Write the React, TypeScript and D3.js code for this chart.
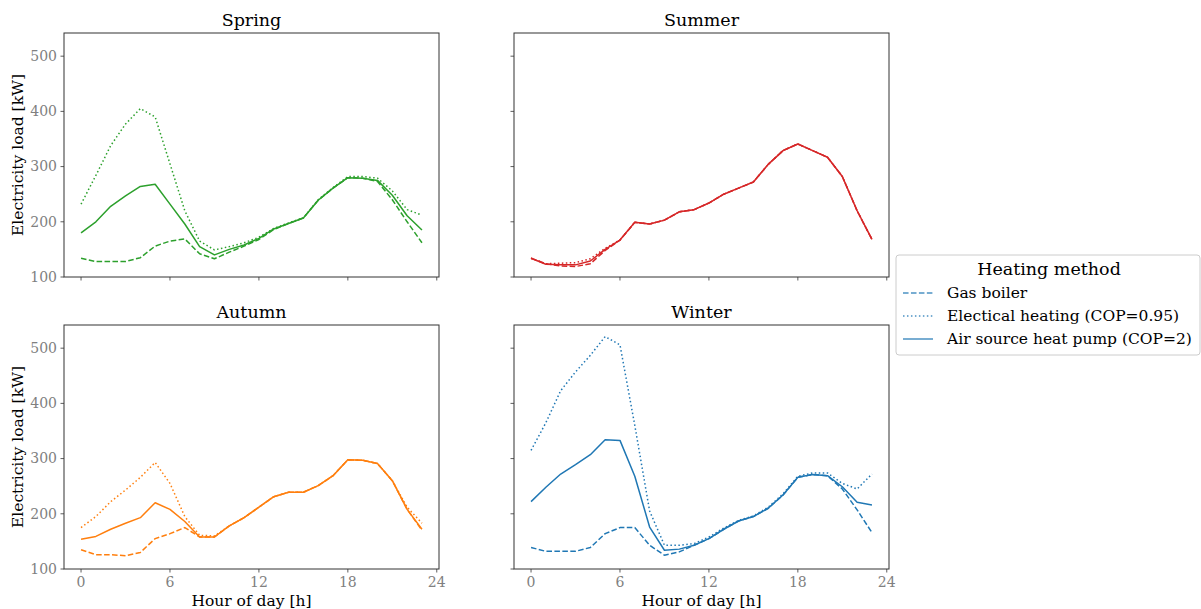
import { scaleLinear, line } from 'd3'

// 2x2 seasonal load profiles, shared axes, one legend on the right.

const HOURS = [0, 1, 2, 3, 4, 5, 6, 7, 8, 9, 10, 11, 12, 13, 14, 15, 16, 17, 18, 19, 20, 21, 22, 23]

const SPRING_GAS = [134, 128, 128, 128, 135, 156, 165, 169, 142, 133, 145, 156, 168, 186, 197, 207, 239, 261, 280, 279, 273, 240, 200, 162]
const SPRING_ELEC = [232, 284, 338, 377, 405, 390, 305, 220, 165, 149, 155, 162, 172, 188, 198, 207, 240, 262, 282, 282, 279, 256, 222, 212]
const SPRING_HP = [180, 200, 228, 247, 264, 268, 232, 196, 155, 140, 150, 158, 170, 187, 197, 207, 239, 261, 280, 279, 275, 248, 211, 185]

const SUMMER_GAS = [134, 124, 120, 119, 124, 148, 167, 199, 196, 203, 218, 222, 234, 250, 261, 272, 304, 329, 341, 329, 317, 282, 220, 168]
const SUMMER_ELEC = [134, 124, 125, 126, 133, 152, 167, 199, 196, 203, 218, 222, 234, 250, 261, 272, 304, 329, 341, 329, 317, 282, 220, 168]
const SUMMER_HP = [134, 123, 122, 122, 129, 150, 167, 199, 196, 203, 218, 222, 234, 250, 261, 272, 304, 329, 341, 329, 317, 282, 220, 168]

const AUTUMN_GAS = [135, 126, 126, 124, 130, 155, 164, 175, 158, 158, 178, 193, 212, 231, 239, 239, 251, 269, 298, 297, 291, 260, 208, 170]
const AUTUMN_ELEC = [175, 195, 222, 243, 266, 293, 255, 195, 161, 160, 178, 193, 212, 231, 239, 239, 251, 269, 298, 297, 291, 260, 212, 183]
const AUTUMN_HP = [154, 159, 172, 183, 193, 220, 208, 186, 158, 158, 178, 193, 212, 231, 239, 239, 251, 269, 298, 297, 291, 260, 208, 172]

const WINTER_GAS = [139, 132, 132, 132, 139, 164, 175, 175, 143, 125, 131, 143, 155, 172, 187, 195, 210, 234, 266, 271, 269, 245, 207, 166]
const WINTER_ELEC = [315, 365, 423, 457, 487, 521, 506, 360, 205, 143, 143, 146, 158, 174, 188, 196, 212, 236, 268, 274, 274, 255, 245, 272]
const WINTER_HP = [222, 248, 272, 289, 307, 334, 333, 268, 176, 134, 136, 143, 155, 172, 187, 195, 210, 234, 266, 271, 269, 249, 221, 216]

const Y_TICKS = [100, 200, 300, 400, 500]
const X_TICKS = [0, 6, 12, 18, 24]
const METHODS = ['Gas boiler', 'Electical heating (COP=0.95)', 'Air source heat pump (COP=2)']
const DASHES = ['5.55,2.4', '1.5,2.475', '']

const SEASONS = [
  { name: 'Spring', color: '#2ca02c', series: [SPRING_GAS, SPRING_ELEC, SPRING_HP] },
  { name: 'Summer', color: '#d62728', series: [SUMMER_GAS, SUMMER_ELEC, SUMMER_HP] },
  { name: 'Autumn', color: '#ff7f0e', series: [AUTUMN_GAS, AUTUMN_ELEC, AUTUMN_HP] },
  { name: 'Winter', color: '#1f77b4', series: [WINTER_GAS, WINTER_ELEC, WINTER_HP] },
]

const FONT = '"DejaVu Serif", serif'
const SPINE = '#333'
const TICK_TEXT = '#808080'

const COLS = [64, 514]
const ROWS = [33, 325]
const PW = 375
const PH = 244

function Panel({ idx }: { idx: number }) {
  const s = SEASONS[idx]
  const col = idx % 2
  const row = Math.floor(idx / 2)
  const left = COLS[col]
  const top = ROWS[row]
  const x = scaleLinear().domain([-1.15, 24.15]).range([0, PW])
  const y = scaleLinear().domain([100, 542]).range([PH, 0])
  const path = line<number>()
    .x((_, i) => x(HOURS[i]))
    .y((d) => y(d))

  return (
    <g transform={`translate(${left},${top})`}>
      <text x={PW / 2} y={-7} textAnchor="middle" fontSize={17.5} fontFamily={FONT} fill="#000">
        {s.name}
      </text>
      <defs>
        <clipPath id={`clip${idx}`}>
          <rect x={0} y={0} width={PW} height={PH} />
        </clipPath>
      </defs>
      <g clipPath={`url(#clip${idx})`}>
        {s.series.map((d, i) => (
          <path
            key={i}
            d={path(d) ?? ''}
            fill="none"
            stroke={s.color}
            strokeWidth={1.5}
            strokeDasharray={DASHES[i] || undefined}
            strokeLinejoin="round"
          />
        ))}
      </g>
      <rect x={0} y={0} width={PW} height={PH} fill="none" stroke={SPINE} strokeWidth={1} />
      {Y_TICKS.map((t) => (
        <g key={t}>
          <line x1={-3.5} x2={0} y1={y(t)} y2={y(t)} stroke={SPINE} strokeWidth={0.8} />
          {col === 0 && (
            <text x={-7} y={y(t)} dy="0.35em" textAnchor="end" fontSize={14} fontFamily={FONT} fill={TICK_TEXT}>
              {t}
            </text>
          )}
        </g>
      ))}
      {X_TICKS.map((t) => (
        <g key={t}>
          <line x1={x(t)} x2={x(t)} y1={PH} y2={PH + 3.5} stroke={SPINE} strokeWidth={0.8} />
          {row === 1 && (
            <text x={x(t)} y={PH + 18} textAnchor="middle" fontSize={14} fontFamily={FONT} fill={TICK_TEXT}>
              {t}
            </text>
          )}
        </g>
      ))}
      {col === 0 && (
        <text
          transform={`translate(-41,${PH / 2}) rotate(-90)`}
          textAnchor="middle"
          fontSize={15.5}
          fontFamily={FONT}
          fill="#000"
        >
          Electricity load [kW]
        </text>
      )}
      {row === 1 && (
        <text x={PW / 2} y={PH + 37} textAnchor="middle" fontSize={15.5} fontFamily={FONT} fill="#000">
          Hour of day [h]
        </text>
      )}
    </g>
  )
}

function Legend() {
  const lx = 896
  const ly = 255
  return (
    <g>
      <rect x={lx} y={ly} width={304} height={100} rx={3} fill="#fff" stroke="#ccc" strokeWidth={1} />
      <text x={lx + 153} y={ly + 20} textAnchor="middle" fontSize={17.5} fontFamily={FONT} fill="#000">
        Heating method
      </text>
      {METHODS.map((m, i) => {
        const cy = ly + 38 + i * 23
        return (
          <g key={m}>
            <line
              x1={lx + 7}
              x2={lx + 37}
              y1={cy}
              y2={cy}
              stroke="#1f77b4"
              strokeOpacity={0.8}
              strokeWidth={1.5}
              strokeDasharray={DASHES[i] || undefined}
            />
            <text x={lx + 51} y={cy} dy="0.35em" fontSize={15.5} fontFamily={FONT} fill="#000">
              {m}
            </text>
          </g>
        )
      })}
    </g>
  )
}

export default function App() {
  return (
    <svg
      width={1201}
      height={609}
      viewBox="0 0 1201 609"
      style={{ position: 'absolute', left: 0, top: 0, background: '#fff' }}
    >
      {SEASONS.map((_, i) => (
        <Panel key={i} idx={i} />
      ))}
      <Legend />
    </svg>
  )
}
